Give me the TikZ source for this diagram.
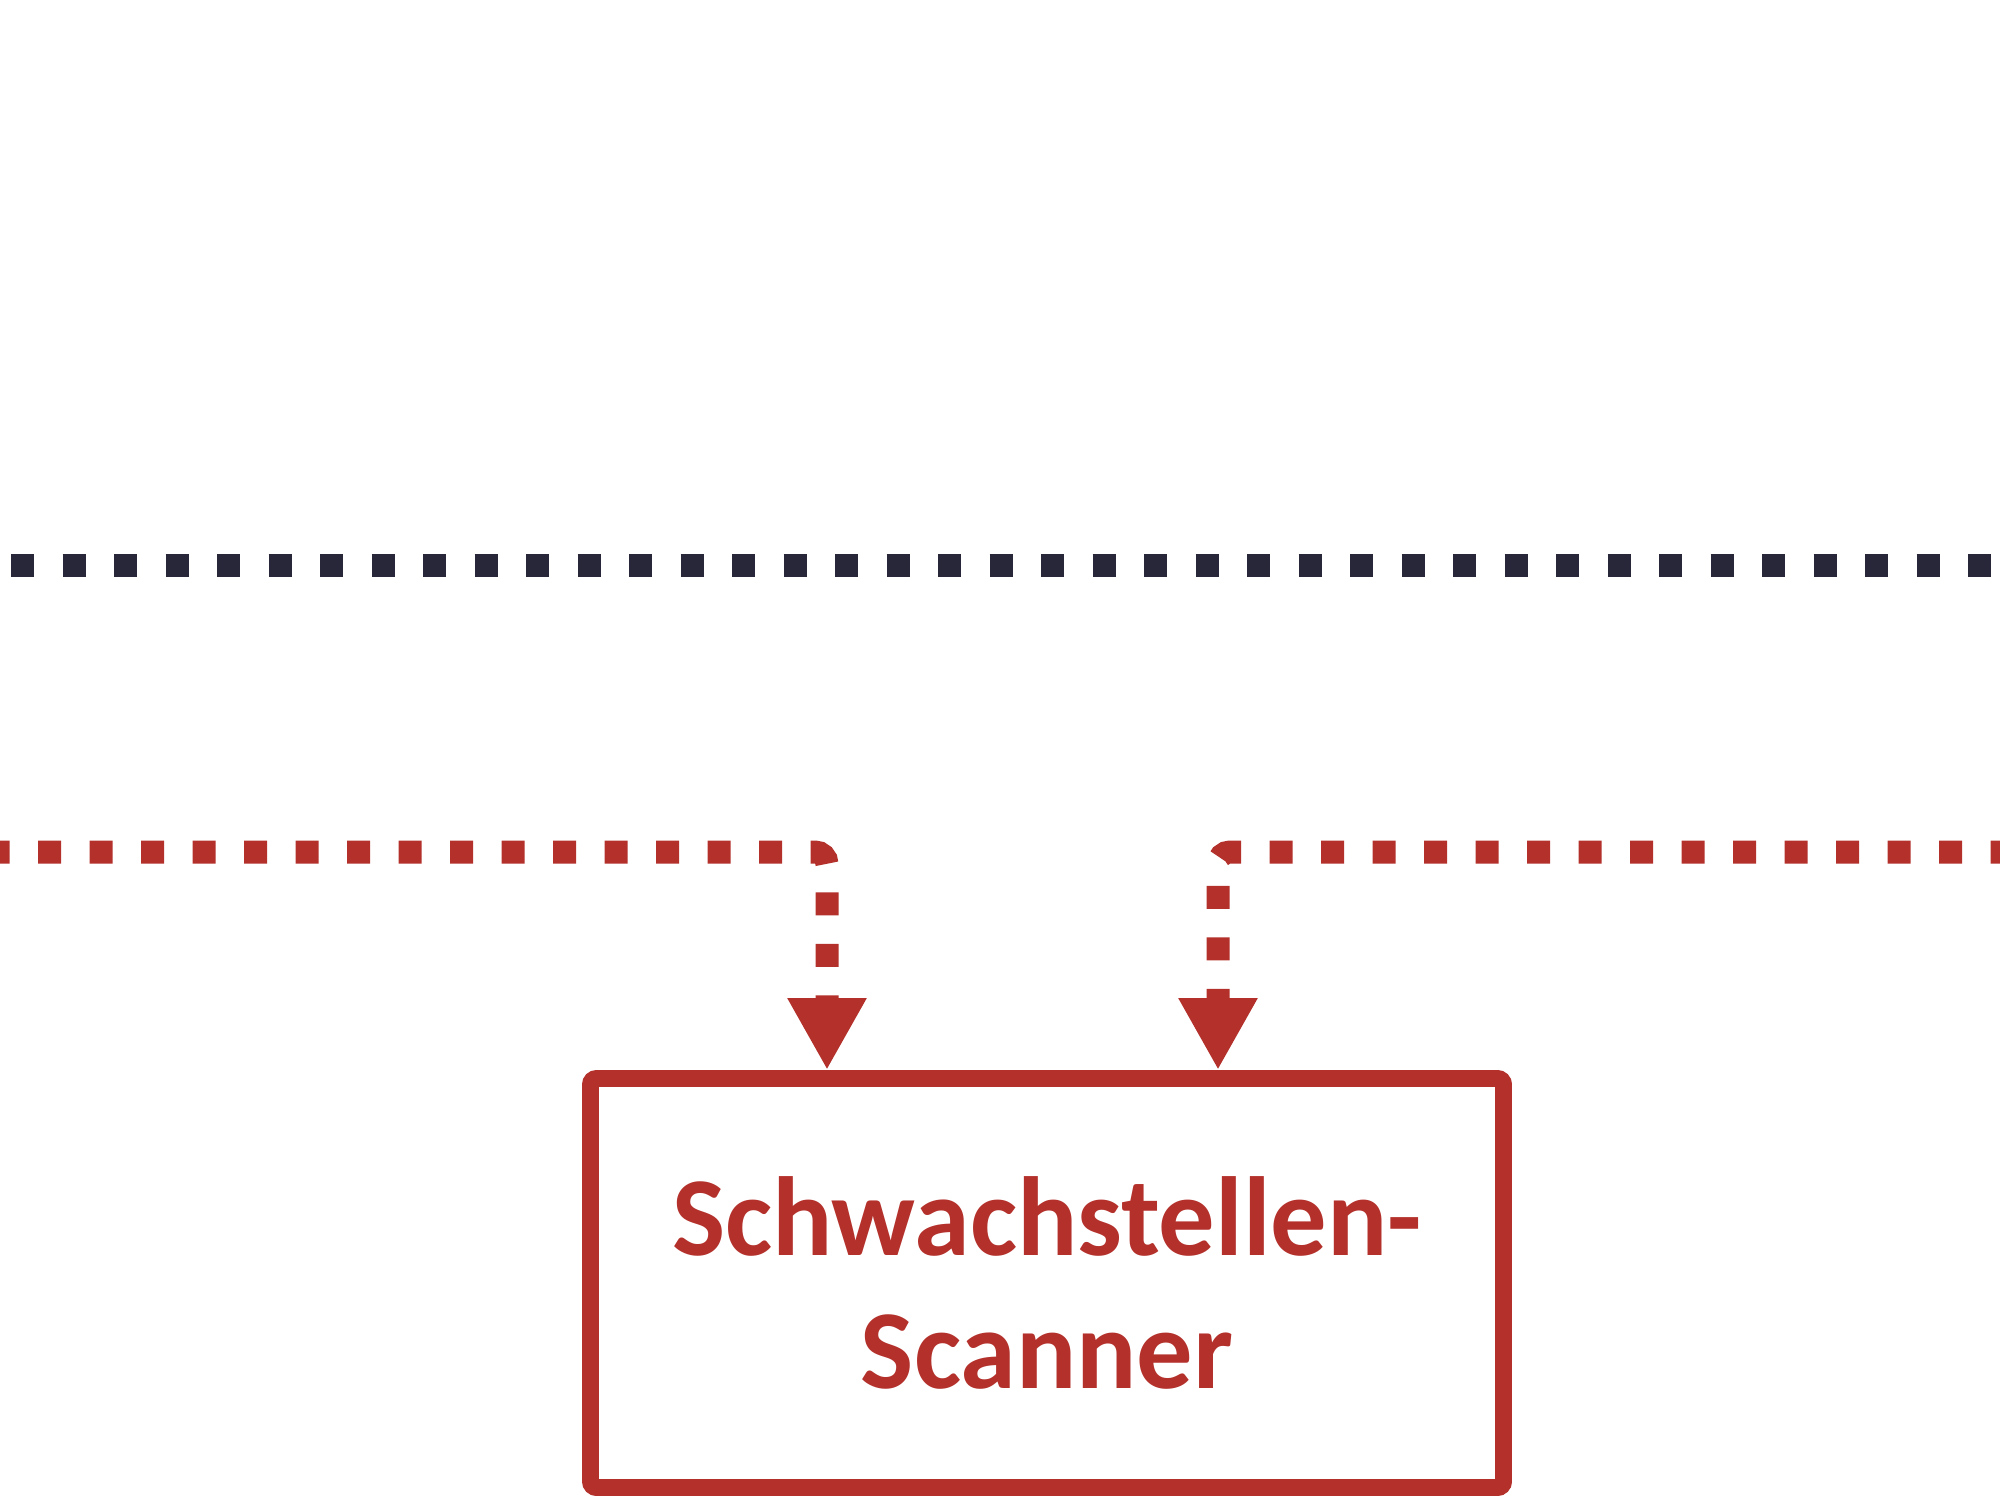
\documentclass[tikz,border=0pt]{standalone}
\usepackage{fontspec}
\setmainfont{Carlito}
\usetikzlibrary{arrows.meta}
\definecolor{scanred}{HTML}{B3302B}
\definecolor{busdark}{HTML}{272739}
\tikzset{
  busline/.style={draw=busdark,line width=0.23cm,dash pattern=on 0.23cm off 0.285cm,dash phase=0.405cm},
  redflow/.style={draw=scanred,line width=0.23cm,dash pattern=on 0.23cm off 0.285cm,dash phase=0.135cm,
    rounded corners=0.12cm,-{Triangle[length=0.72cm,width=0.74cm]}},
  scanbox/.style={draw=scanred,line width=4.8pt,rounded corners=0.06cm,minimum width=9.13cm,minimum height=4.09cm,
    align=center,text=scanred,font=\bfseries\fontsize{32}{38}\selectfont}
}
\begin{document}
\begin{tikzpicture}
  \useasboundingbox (0,0) rectangle (20,15);

  \node[scanbox] (scanner) at (10.47,2.17) {Schwachstellen-\\Scanner};

  \coordinate (busL) at (0,9.345);
  \coordinate (busR) at (20,9.345);
  \coordinate (redL) at (0,6.48);
  \coordinate (redR) at (20,6.48);

  \draw[busline] (busL) -- (busR);
  \draw[redflow] (redL) -| ([xshift=-2.2cm]scanner.north);
  \draw[redflow] (redR) -| ([xshift=1.71cm]scanner.north);
\end{tikzpicture}
\end{document}
